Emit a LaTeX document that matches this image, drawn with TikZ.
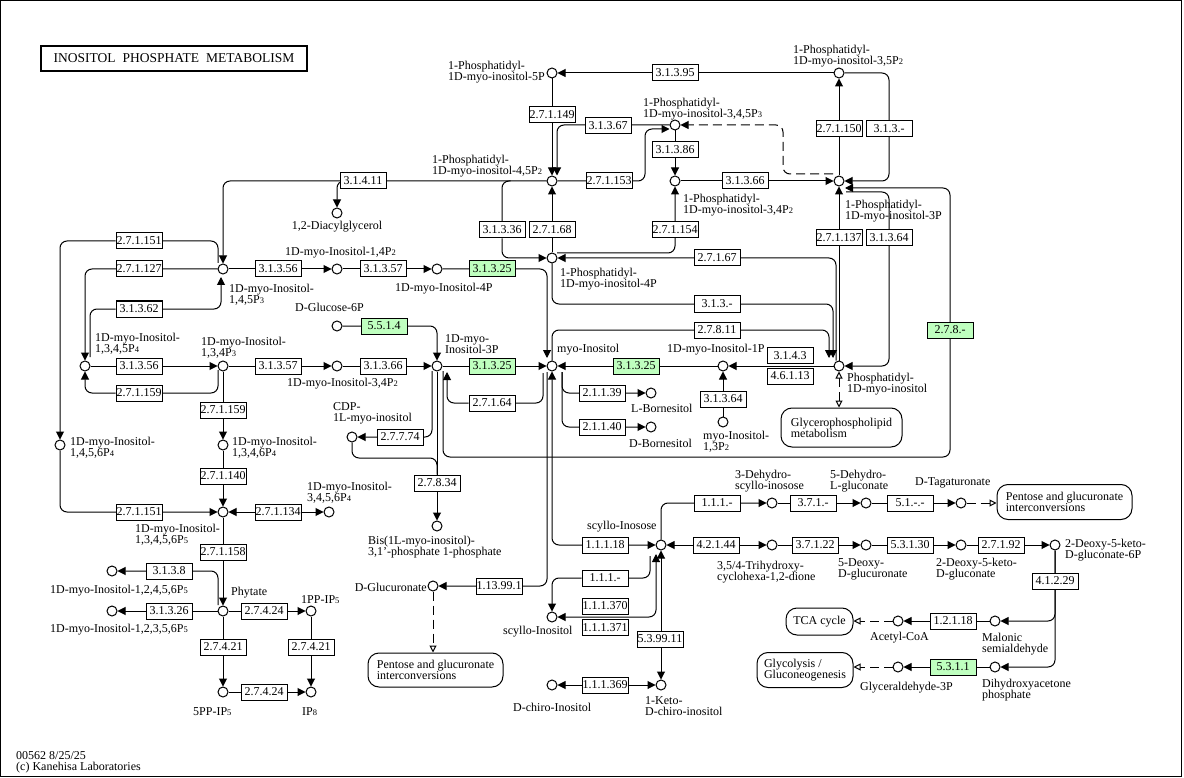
\documentclass[tikz,border=0pt]{standalone}
\usepackage{fontspec}
\setmainfont{Liberation Serif}
\usetikzlibrary{arrows.meta,calc,backgrounds}

\definecolor{keggreen}{RGB}{191,255,191}
\newcommand{\psub}[1]{{\fontsize{8.5}{8.5}\selectfont #1}}

\tikzset{
  cpd/.style={circle,draw,fill=white,minimum size=10pt,inner sep=0pt,line width=1pt},
  enz/.style={draw,fill=white,minimum width=46pt,minimum height=16pt,inner sep=0pt,line width=1pt,font=\fontsize{12}{12}\selectfont},
  genz/.style={enz,fill=keggreen},
  lbl/.style={inner sep=0pt,align=left,font=\fontsize{12}{11}\selectfont},
  mapbox/.style={draw,fill=white,rounded corners=11pt,line width=1pt,align=left,inner sep=0pt,font=\fontsize{12}{11}\selectfont},
  ln/.style={line width=1pt,rounded corners=7pt},
  ar/.style={ln,-{Triangle[length=8pt,width=8pt]}},
  arr/.style={ln,{Triangle[length=8pt,width=8pt]}-{Triangle[length=8pt,width=8pt]}},
  dar/.style={line width=1pt,dash pattern=on 9pt off 5pt,-{Triangle[open,length=7pt,width=7pt,fill=white]}},
  darr/.style={dar,{Triangle[open,length=7pt,width=7pt,fill=white]}-{Triangle[open,length=7pt,width=7pt,fill=white]}},
}

\begin{document}
\begin{tikzpicture}[x=1pt,y=-1pt]
\useasboundingbox (0,0) rectangle (1184,778);
\draw[line width=1pt] (0.5,0.5) rectangle (1181.5,776.5);

\node[draw,line width=2pt,minimum width=266pt,minimum height=25pt,inner sep=0pt,font=\fontsize{13.5}{13.5}\selectfont] (title) at (174,58.5) {INOSITOL\hspace{7pt}PHOSPHATE\hspace{7pt}METABOLISM};

% compounds
\node[cpd] (pifive) at (552,73) {};
\node[cpd] (pithreefive) at (839,73) {};
\node[cpd] (pip3) at (675,125) {};
\node[cpd] (pip2) at (552,181) {};
\node[cpd] (pi34) at (675,181) {};
\node[cpd] (pi3p) at (839,181) {};
\node[cpd] (dag) at (337,213) {};
\node[cpd] (pi4p) at (552,258) {};
\node[cpd] (ip3) at (223,269) {};
\node[cpd] (ins14) at (337,269) {};
\node[cpd] (ins4) at (437,269) {};
\node[cpd] (g6p) at (337,326) {};
\node[cpd] (ip4) at (85,366) {};
\node[cpd] (ins134) at (223,366) {};
\node[cpd] (ins34) at (337,366) {};
\node[cpd] (ins3p) at (437,366) {};
\node[cpd] (myo) at (552,366) {};
\node[cpd] (ins1p) at (723,366) {};
\node[cpd] (ptdins) at (839,366) {};
\node[cpd] (lborn) at (651,393) {};
\node[cpd] (dborn) at (651,427) {};
\node[cpd] (ins13) at (723,422) {};
\node[cpd] (cdpi) at (352,437) {};
\node[cpd] (ins1456) at (60,445) {};
\node[cpd] (ins1346) at (223,445) {};
\node[cpd] (dhsi) at (772,503) {};
\node[cpd] (dhlg) at (866,503) {};
\node[cpd] (dtag) at (961,503) {};
\node[cpd] (ip5) at (223,512) {};
\node[cpd] (ins3456) at (329,512) {};
\node[cpd] (bis) at (437,526) {};
\node[cpd] (scinos) at (661,545) {};
\node[cpd] (thcd) at (772,545) {};
\node[cpd] (ddg) at (866,545) {};
\node[cpd] (dkg) at (961,545) {};
\node[cpd] (dkgp) at (1055,545) {};
\node[cpd] (ip5a) at (112,571) {};
\node[cpd] (dglca) at (433,586) {};
\node[cpd] (phy) at (223,611) {};
\node[cpd] (ip5b) at (112,611) {};
\node[cpd] (pp1) at (311,611) {};
\node[cpd] (scino) at (552,617) {};
\node[cpd] (malsa) at (995,621) {};
\node[cpd] (acoa) at (898,621) {};
\node[cpd] (dhap) at (995,667) {};
\node[cpd] (gap) at (898,667) {};
\node[cpd] (dchiro) at (552,685) {};
\node[cpd] (kdci) at (661,685) {};
\node[cpd] (pp5) at (223,692) {};
\node[cpd] (ip8) at (311,692) {};

% enzymes
\node[enz] (e31395) at (675,73) {3.1.3.95};
\node[enz] (e271149) at (552,115) {2.7.1.149};
\node[enz] (e31367) at (608,126) {3.1.3.67};
\node[enz] (e271150) at (839,129) {2.7.1.150};
\node[enz] (e313a) at (889,129) {3.1.3.-};
\node[enz] (e31386) at (675,150) {3.1.3.86};
\node[enz] (e31411) at (363,181) {3.1.4.11};
\node[enz] (e271153) at (609,181) {2.7.1.153};
\node[enz] (e31366a) at (745,181) {3.1.3.66};
\node[enz] (e31336) at (502,230) {3.1.3.36};
\node[enz] (e27168) at (552,230) {2.7.1.68};
\node[enz] (e271154) at (675,230) {2.7.1.154};
\node[enz] (e271137) at (839,238) {2.7.1.137};
\node[enz] (e31364a) at (889,238) {3.1.3.64};
\node[enz] (e271151a) at (139,241) {2.7.1.151};
\node[enz] (e27167) at (717,258) {2.7.1.67};
\node[enz] (e271127) at (139,269) {2.7.1.127};
\node[enz] (e31356a) at (278,269) {3.1.3.56};
\node[enz] (e31357a) at (383,269) {3.1.3.57};
\node[genz] (e31325a) at (492,269) {3.1.3.25};
\node[enz] (e313b) at (717,304) {3.1.3.-};
\node[enz] (e31362) at (139,309) {3.1.3.62};
\node[genz] (e5514) at (384,326) {5.5.1.4};
\node[enz] (e27811) at (717,330) {2.7.8.11};
\node[genz] (e278) at (950,330) {2.7.8.-};
\node[enz] (e3143) at (790,355.5) {3.1.4.3};
\node[enz] (e31356b) at (139,366) {3.1.3.56};
\node[enz] (e31357b) at (278,366) {3.1.3.57};
\node[enz] (e31366b) at (383,366) {3.1.3.66};
\node[genz] (e31325b) at (492,366) {3.1.3.25};
\node[genz] (e31325c) at (636,366) {3.1.3.25};
\node[enz] (e46113) at (790,376) {4.6.1.13};
\node[enz] (e271159a) at (139,393) {2.7.1.159};
\node[enz] (e21139) at (602,393) {2.1.1.39};
\node[enz] (e31364b) at (723,399) {3.1.3.64};
\node[enz] (e27164) at (492,403) {2.7.1.64};
\node[enz] (e271159b) at (223,410) {2.7.1.159};
\node[enz] (e21140) at (602,427) {2.1.1.40};
\node[enz] (e27774) at (400,437) {2.7.7.74};
\node[enz] (e271140) at (223,476) {2.7.1.140};
\node[enz] (e27834) at (437,483) {2.7.8.34};
\node[enz] (e111a) at (717,503) {1.1.1.-};
\node[enz] (e371) at (813,503) {3.7.1.-};
\node[enz] (e51) at (910,503) {5.1.-.-};
\node[enz] (e271151b) at (139,512) {2.7.1.151};
\node[enz] (e271134) at (278,512) {2.7.1.134};
\node[enz] (e11118) at (605,545) {1.1.1.18};
\node[enz] (e42144) at (716,545) {4.2.1.44};
\node[enz] (e37122) at (815,545) {3.7.1.22};
\node[enz] (e53130) at (910,545) {5.3.1.30};
\node[enz] (e27192) at (1001,545) {2.7.1.92};
\node[enz] (e271158) at (223,552) {2.7.1.158};
\node[enz] (e3138) at (169,571) {3.1.3.8};
\node[enz] (e111b) at (605,578) {1.1.1.-};
\node[enz] (e41229) at (1055,581) {4.1.2.29};
\node[enz] (e113991) at (499,586) {1.13.99.1};
\node[enz] (e111370) at (605,606) {1.1.1.370};
\node[enz] (e31326) at (169,611) {3.1.3.26};
\node[enz] (e27424a) at (264,611) {2.7.4.24};
\node[enz] (e12118) at (953,621) {1.2.1.18};
\node[enz] (e111371) at (605,627.5) {1.1.1.371};
\node[enz] (e539911) at (660,639) {5.3.99.11};
\node[enz] (e27421a) at (223,647) {2.7.4.21};
\node[enz] (e27421b) at (311,647) {2.7.4.21};
\node[genz] (e5311) at (953,667) {5.3.1.1};
\node[enz] (e111369) at (605,685) {1.1.1.369};
\node[enz] (e27424b) at (264,692) {2.7.4.24};

% maps
\node[mapbox,minimum width=121pt,minimum height=39pt] (gpl) at (841.5,427.5) {Glycerophospholipid\\metabolism};
\node[mapbox,minimum width=135pt,minimum height=35pt] (pgia) at (1064.5,502) {Pentose and glucuronate\\interconversions};
\node[mapbox,minimum width=135pt,minimum height=34pt] (pgib) at (435.5,670) {Pentose and glucuronate\\interconversions};
\node[mapbox,minimum width=67pt,minimum height=27pt] (tca) at (819.5,621.5) {TCA cycle};
\node[mapbox,minimum width=96pt,minimum height=35pt] (gly) at (805,670) {Glycolysis /\\Gluconeogenesis};

% labels
\node[lbl,anchor=west] (t-pifive) at (448,72) {1-Phosphatidyl-\\1D-myo-inositol-5P};
\node[lbl,anchor=west] (t-pithreefive) at (793,56) {1-Phosphatidyl-\\1D-myo-inositol-3,5P\psub{2}};
\node[lbl,anchor=west] (t-pip3) at (643,109) {1-Phosphatidyl-\\1D-myo-inositol-3,4,5P\psub{3}};
\node[lbl,anchor=west] (t-pip2) at (432,166) {1-Phosphatidyl-\\1D-myo-inositol-4,5P\psub{2}};
\node[lbl,anchor=west] (t-pi34) at (683,205) {1-Phosphatidyl-\\1D-myo-inositol-3,4P\psub{2}};
\node[lbl,anchor=west] (t-pi3p) at (845,211) {1-Phosphatidyl-\\1D-myo-inositol-3P};
\node[lbl] (t-dag) at (337,227) {1,2-Diacylglycerol};
\node[lbl,anchor=west] (t-ins14) at (285,253) {1D-myo-Inositol-1,4P\psub{2}};
\node[lbl,anchor=west] (t-pi4p) at (560,279) {1-Phosphatidyl-\\1D-myo-inositol-4P};
\node[lbl,anchor=west] (t-ip3) at (229,295) {1D-myo-Inositol-\\1,4,5P\psub{3}};
\node[lbl,anchor=west] (t-ins4) at (395,289) {1D-myo-Inositol-4P};
\node[lbl,anchor=west] (t-g6p) at (295,307) {D-Glucose-6P};
\node[lbl,anchor=west] (t-ip4) at (95,344) {1D-myo-Inositol-\\1,3,4,5P\psub{4}};
\node[lbl,anchor=west] (t-ins134) at (201,348) {1D-myo-Inositol-\\1,3,4P\psub{3}};
\node[lbl,anchor=west] (t-ins3p) at (445,344) {1D-myo-\\Inositol-3P};
\node[lbl,anchor=west] (t-myo) at (557,350) {myo-Inositol};
\node[lbl,anchor=west] (t-ins1p) at (667,350) {1D-myo-Inositol-1P};
\node[lbl,anchor=west] (t-ins34) at (287,384) {1D-myo-Inositol-3,4P\psub{2}};
\node[lbl,anchor=west] (t-ptdins) at (847,384) {Phosphatidyl-\\1D-myo-inositol};
\node[lbl,anchor=west] (t-cdpi) at (333,413) {CDP-\\1L-myo-inositol};
\node[lbl,anchor=west] (t-lborn) at (631,408) {L-Bornesitol};
\node[lbl,anchor=west] (t-dborn) at (629,443) {D-Bornesitol};
\node[lbl,anchor=west] (t-ins13) at (703,442) {myo-Inositol-\\1,3P\psub{2}};
\node[lbl,anchor=west] (t-ins1456) at (70,448) {1D-myo-Inositol-\\1,4,5,6P\psub{4}};
\node[lbl,anchor=west] (t-ins1346) at (232,448) {1D-myo-Inositol-\\1,3,4,6P\psub{4}};
\node[lbl,anchor=west] (t-dhsi) at (735,481) {3-Dehydro-\\scyllo-inosose};
\node[lbl,anchor=west] (t-dhlg) at (830,481) {5-Dehydro-\\L-gluconate};
\node[lbl,anchor=west] (t-dtag) at (915,483) {D-Tagaturonate};
\node[lbl,anchor=west] (t-ins3456) at (307,493) {1D-myo-Inositol-\\3,4,5,6P\psub{4}};
\node[lbl,anchor=west] (t-ip5) at (135,535) {1D-myo-Inositol-\\1,3,4,5,6P\psub{5}};
\node[lbl,anchor=west] (t-scinos) at (587,527) {scyllo-Inosose};
\node[lbl,anchor=west] (t-bis) at (368,547) {Bis(1L-myo-inositol)-\\3,1'-phosphate 1-phosphate};
\node[lbl,anchor=west] (t-thcd) at (717,572) {3,5/4-Trihydroxy-\\cyclohexa-1,2-dione};
\node[lbl,anchor=west] (t-ddg) at (838,569) {5-Deoxy-\\D-glucuronate};
\node[lbl,anchor=west] (t-dkg) at (936,569) {2-Deoxy-5-keto-\\D-gluconate};
\node[lbl,anchor=west] (t-dkgp) at (1065,550) {2-Deoxy-5-keto-\\D-gluconate-6P};
\node[lbl,anchor=east] (t-dglca) at (427,587) {D-Glucuronate};
\node[lbl,anchor=west] (t-ip5a) at (50,591) {1D-myo-Inositol-1,2,4,5,6P\psub{5}};
\node[lbl,anchor=west] (t-phy) at (231,593) {Phytate};
\node[lbl,anchor=west] (t-pp1) at (301,600) {1PP-IP\psub{5}};
\node[lbl,anchor=west] (t-ip5b) at (50,630) {1D-myo-Inositol-1,2,3,5,6P\psub{5}};
\node[lbl,anchor=west] (t-scino) at (503,632) {scyllo-Inositol};
\node[lbl,anchor=west] (t-acoa) at (870,638) {Acetyl-CoA};
\node[lbl,anchor=west] (t-malsa) at (982,644) {Malonic\\semialdehyde};
\node[lbl,anchor=west] (t-gap) at (860,688) {Glyceraldehyde-3P};
\node[lbl,anchor=west] (t-dhap) at (982,690) {Dihydroxyacetone\\phosphate};
\node[lbl,anchor=west] (t-dchiro) at (513,707) {D-chiro-Inositol};
\node[lbl,anchor=west] (t-kdci) at (645,706) {1-Keto-\\D-chiro-inositol};
\node[lbl,anchor=west] (t-pp5) at (193,712) {5PP-IP\psub{5}};
\node[lbl,anchor=west] (t-ip8) at (302,712) {IP\psub{8}};
\node[lbl,anchor=west] (stamp) at (16,762) {00562 8/25/25\\(c) Kanehisa Laboratories};

\begin{scope}[on background layer]
% phosphatidylinositol phosphates
\draw[ar] (pithreefive) -- (pifive);
\draw[ar] (pifive) -- (pip2);
\draw[ar] (pip3) -| ($(pip2.north)+(5,0)$);
\draw[ar] (pip2) -- (645,181) |- ($(pip3.west)+(0,4)$);
\draw[ar] (pip3) -- (pi34);
\draw[ar] (pi34) -- (pi3p);
\draw[ar,dash pattern=on 9pt off 5pt] ($(pi3p)+(-6,-7)$) -| (783,125) -- (pip3);
\draw[ar] (pi3p) -- (pithreefive);
\draw[ar] (pithreefive) -| (889,181) -- (pi3p);
\draw[ar] (ptdins) -- (pi3p);
\draw[ar] ($(pi3p)+(7,11)$) -| (889,366) -- (ptdins);
\draw[ar] ($(ins3p)+(6,5)$) |- (950,457) |- ($(pi3p)+(6,7)$);
\draw[ar] (pi4p) -- (pip2);
\draw[ar] ($(pip2.west)+(-36,0)$) -| (e31336) |- (pi4p);
\draw[ar] ($(pi4p)+(5,-5)$) -| (pi34);
\draw[ar] ($(ptdins.north)+(-3,0)$) |- (pi4p);
\draw[ar] (pi4p) |- (833,304) -- ($(ptdins)+(-6,-8)$);
\draw[ar] (myo) |- (829,330) -- ($(ptdins)+(-10,-8)$);
\draw[darr] (ptdins) -- (ptdins |- gpl.north);
% inositol phosphates
\draw[ar] (pip2) -| (ip3);
\draw[ar] ($(e31411.west)+(3,0)$) -| (dag);
\draw[ar] (ip3) -- (ins14);
\draw[ar] (ins14) -- (ins4);
\draw[ar] (ins4) -| ($(myo)+(-5,-8)$);
\draw[ar] (ip3) -| (ip4);
\draw[ar] ($(ip4)+(5,-9)$) |- (e31362) -| ($(ip3)+(-2,8)$);
\draw[ar] ($(ip3)+(-5,-6)$) |- (e271151a) -| (ins1456);
\draw[ar] (ip4) -- (ins134);
\draw[ar] ($(ins134)+(-5,4)$) |- (e271159a) -| (ip4);
\draw[ar] (ins134) -- (ins34);
\draw[ar] (ins34) -- (ins3p);
\draw[ar] (g6p) -| (ins3p);
\draw[ar] (ins3p) -- (myo);
\draw[ar] ($(myo)+(-9,7)$) |- (e27164) -| ($(ins3p)+(10,6)$);
\draw[ar] (ins1p) -- (myo);
\draw[ar] (ptdins) -- (ins1p);
\draw[ar] (ins13) -- (ins1p);
\draw[ar] ($(myo)+(10,6)$) |- (lborn);
\draw[ar] ($(myo)+(10,6)$) |- (dborn);
\draw[ar] (ins134) -- (ins1346);
\draw[ar] (ins1346) -- (ip5);
\draw[ar] (ins1456) |- (ip5);
\draw[arr] (ip5) -- (ins3456);
\draw[ar] (ip5) -- (phy);
\draw[ar] ($(phy)+(-5,-6)$) |- (ip5a);
\draw[ar] (phy) -- (ip5b);
\draw[ar] (phy) -- (pp1);
\draw[ar] (phy) -- (pp5);
\draw[ar] (pp1) -- (ip8);
\draw[ar] (pp5) -- (ip8);
\draw[ar] ($(ins3p)+(-5,5)$) |- (cdpi);
\draw[ar] (ins3p) -- (bis);
\draw[ln] (cdpi) |- (437,458) -- (e27834);
% scyllo-inositol branch
\draw[ar] ($(myo)+(-5,6)$) |- (dglca);
\draw[arr] (myo) |- (scinos);
\draw[dar] (dglca) -- (dglca |- pgib.north);
\draw[ar] (scinos) |- (dhsi);
\draw[ar] (dhsi) -- (dhlg);
\draw[ar] (dhlg) -- (dtag);
\draw[dar] (dtag) -- (dtag -| pgia.west);
\draw[arr] (scinos) -- (thcd);
\draw[ar] (thcd) -- (ddg);
\draw[ar] (ddg) -- (dkg);
\draw[ar] (dkg) -- (dkgp);
\draw[ar] (dkgp) |- (malsa);
\draw[ar] (dkgp) |- (dhap);
\draw[ar] (malsa) -- (acoa);
\draw[ar] (dhap) -- (gap);
\draw[dar] (acoa) -- (acoa -| tca.east);
\draw[dar] (gap) -- (gap -| gly.east);
\draw[ar] ($(scinos)+(-11,11)$) |- (e111b) -| (scino);
\draw[arr] (scino) -| ($(scinos)+(-5,9)$);
\draw[arr] (scinos) -- (kdci);
\draw[arr] (dchiro) -- (kdci);
\end{scope}
\end{tikzpicture}
\end{document}
